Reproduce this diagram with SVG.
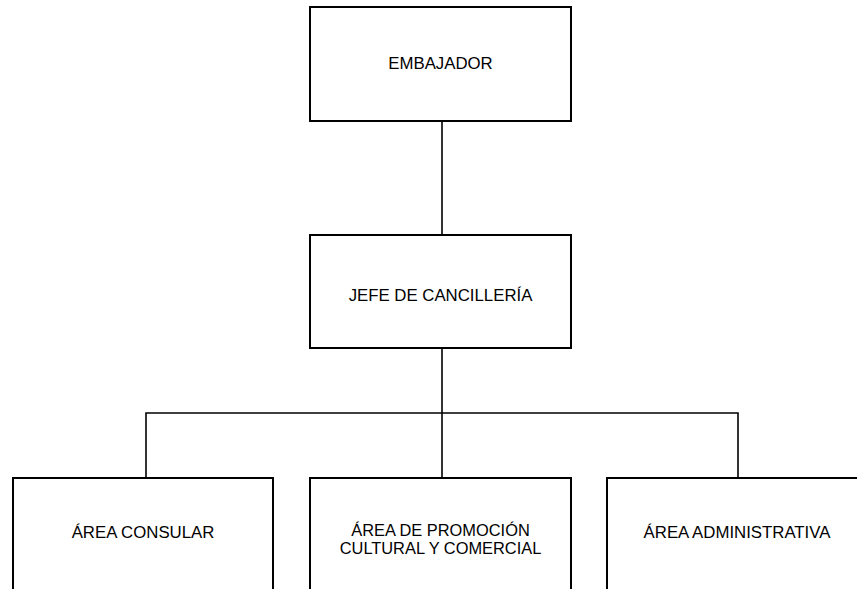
<svg xmlns="http://www.w3.org/2000/svg" width="857" height="589" viewBox="0 0 857 589">
<style>
.box{fill:#fff;stroke:#000;stroke-width:2}
.conn{fill:none;stroke:#000;stroke-width:1.6}
.t{font-family:"Liberation Sans",Arial,sans-serif;font-size:16.8px;fill:#000;text-anchor:middle}
.t2{font-size:16.4px}
</style>
<rect width="857" height="589" fill="#fff"/>
<g id="connectors">
<line class="conn" x1="442" y1="121" x2="442" y2="235"/>
<line class="conn" x1="442" y1="348" x2="442" y2="478"/>
<polyline class="conn" points="146,478 146,413 738,413 738,478"/>
</g>
<g id="embajador">
<rect class="box" x="310" y="7" width="261" height="114"/>
<text class="t" x="440.5" y="69">EMBAJADOR</text>
</g>
<g id="jefe">
<rect class="box" x="310" y="235" width="261" height="113"/>
<text class="t" x="440.5" y="301">JEFE DE CANCILLERÍA</text>
</g>
<g id="consular">
<rect class="box" x="13" y="478" width="260" height="140"/>
<text class="t" x="143" y="538">ÁREA CONSULAR</text>
</g>
<g id="promocion">
<rect class="box" x="310" y="478" width="261" height="140"/>
<text class="t t2" x="440.5" y="535.5">ÁREA DE PROMOCIÓN</text>
<text class="t t2" x="440.5" y="553.5">CULTURAL Y COMERCIAL</text>
</g>
<g id="administrativa">
<rect class="box" x="607" y="478" width="261" height="140"/>
<text class="t" x="737" y="538">ÁREA ADMINISTRATIVA</text>
</g>
</svg>
